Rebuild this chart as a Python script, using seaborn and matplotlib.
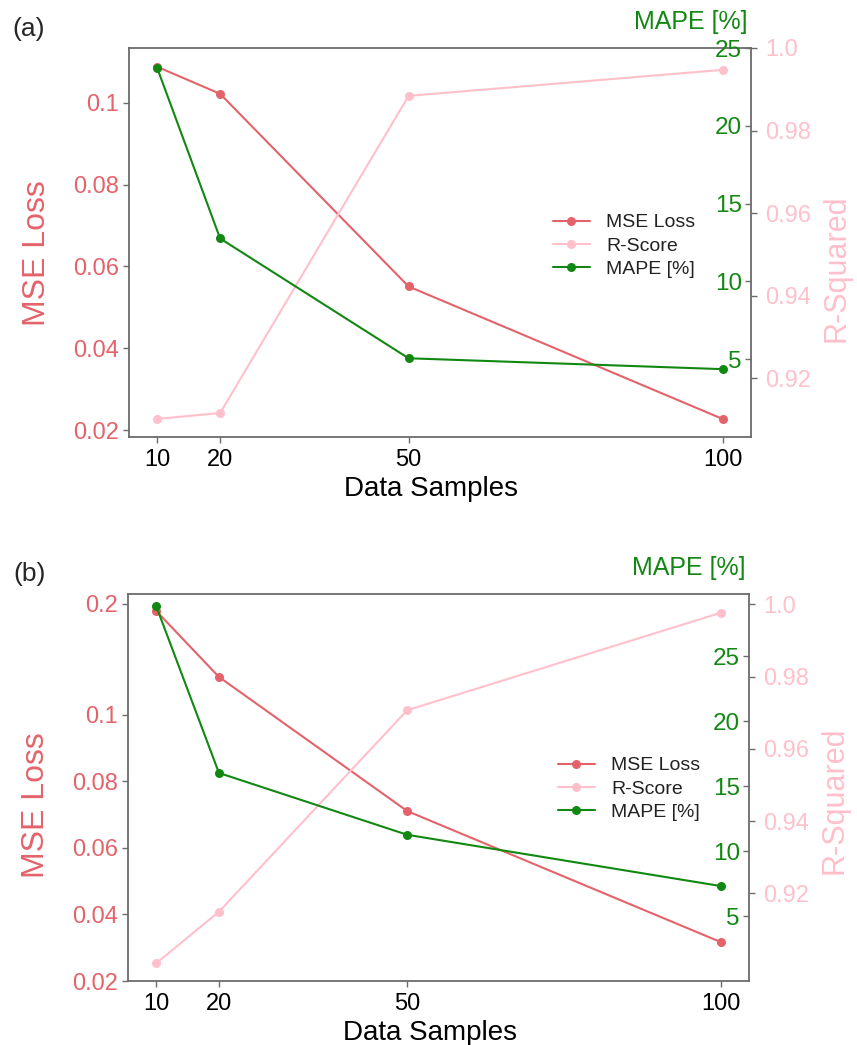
import numpy as np
import matplotlib
matplotlib.use("Agg")
import matplotlib.pyplot as plt
import seaborn as sns

# ---------------- data ----------------
samples = [10, 20, 50, 100]

mse_a = [0.1088, 0.1022, 0.0551, 0.0227]
r2_a = [0.9101, 0.9115, 0.9884, 0.9947]
mape_a = [23.7, 12.76, 5.06, 4.36]

mse_b = [0.1937, 0.1342, 0.0711, 0.0317]
r2_b = [0.9006, 0.9149, 0.9707, 0.9977]
mape_b = [28.86, 16.02, 11.26, 7.31]

x_ticks = [10, 20, 50, 100]
mse_ticks_a = [0.02, 0.04, 0.06, 0.08, 0.1]
mse_labels_a = ["0.02", "0.04", "0.06", "0.08", "0.1"]
mse_ticks_b = [0.02, 0.04, 0.06, 0.08, 0.1, 0.2]
mse_labels_b = ["0.02", "0.04", "0.06", "0.08", "0.1", "0.2"]
mape_ticks = [5, 10, 15, 20, 25]
r2_ticks = [0.92, 0.94, 0.96, 0.98, 1.0]
r2_labels = ["0.92", "0.94", "0.96", "0.98", "1.0"]
series_names = ["MSE Loss", "R-Score", "MAPE [%]"]

# ---------------- style ----------------
sns.set_style("white")
plt.rcParams['font.family'] = ['Liberation Sans', 'DejaVu Sans']

RED = "#E4636A"
GREEN = "#128812"
PINK = "#FFC0CB"
SPINE = "#6b6b6b"


def fwd(y):
    y = np.asarray(y, dtype=float)
    return np.where(y <= 0.1, y, 0.1 + (y - 0.1) / 3.0)


def inv(t):
    t = np.asarray(t, dtype=float)
    return np.where(t <= 0.1, t, 0.1 + (t - 0.1) * 3.0)


fig = plt.figure(figsize=(8.57, 10.45), dpi=100)
W, H = 857.0, 1045.0


def rect(l, t, r, b):
    return [l / W, 1 - b / H, (r - l) / W, (b - t) / H]


def panel(box, mse, r2, mape, mse_ticks, mse_labels, mse_lim, r2_lim, mape_lim,
          broken, leg_xy, ylab_y, rlab_y):
    ax = fig.add_axes(box)
    axr = ax.twinx()
    axm = ax.twinx()

    kw = dict(marker='o', markersize=6.5, markeredgewidth=0, linewidth=1.5)
    sns.lineplot(x=samples, y=mse, ax=ax, color=RED, label=series_names[0], **kw)
    sns.lineplot(x=samples, y=r2, ax=axr, color=PINK, label=series_names[1], **kw)
    sns.lineplot(x=samples, y=mape, ax=axm, color=GREEN, label=series_names[2], **kw)

    handles, labels = [], []
    for a in (ax, axr, axm):
        h, l = a.get_legend_handles_labels()
        handles += h
        labels += l
        if a.get_legend() is not None:
            a.get_legend().remove()

    if broken:
        ax.set_yscale('function', functions=(fwd, inv))
    ax.set_ylim(*mse_lim)
    axr.set_ylim(*r2_lim)
    axm.set_ylim(*mape_lim)
    ax.set_xlim(5.5, 104.5)

    ax.set_xticks(x_ticks, labels=[str(v) for v in x_ticks])
    ax.set_yticks(mse_ticks, labels=mse_labels)
    ax.minorticks_off()
    axr.set_yticks(r2_ticks, labels=r2_labels)
    axm.set_yticks(mape_ticks, labels=[str(v) for v in mape_ticks])

    for s in ax.spines.values():
        s.set_visible(True)
        s.set_color(SPINE)
        s.set_linewidth(1.3)
    for a in (axr, axm):
        for s in a.spines.values():
            s.set_visible(False)

    ax.tick_params(axis='x', labelsize=17, length=4, width=1, color=SPINE,
                   direction='out', pad=5, labelcolor='black', bottom=True)
    ax.tick_params(axis='y', labelsize=17, length=4, width=1, color=SPINE,
                   direction='out', pad=3, labelcolor=RED, left=True)
    axr.tick_params(axis='y', labelsize=17, length=4, width=1, color=SPINE,
                    direction='out', pad=6, labelcolor=PINK, right=True)
    axm.tick_params(axis='y', labelsize=17.5, length=4, width=1, color=SPINE,
                    direction='in', pad=-6.5, labelcolor=GREEN, right=True)
    for t in axm.get_yticklabels():
        t.set_horizontalalignment('right')

    ax.set_xlabel("Data Samples", fontsize=20, color='black')
    ax.xaxis.set_label_coords(0.486, -0.1)
    ax.set_ylabel("MSE Loss", fontsize=23, color=RED)
    ax.yaxis.set_label_coords(-0.124, ylab_y)
    axr.set_ylabel("R-Squared", fontsize=22, color=PINK)
    axr.yaxis.set_label_coords(1.114, rlab_y)
    axm.set_ylabel("MAPE [%]", fontsize=18, color=GREEN, rotation=0,
                   ha='right', va='center')
    axm.yaxis.set_label_coords(0.9936, 1.067)

    axm.legend(handles, labels, loc='center left',
               bbox_to_anchor=(leg_xy[0] / W, 1 - leg_xy[1] / H),
               bbox_transform=fig.transFigure, frameon=False, fontsize=14,
               handlelength=1.9, handletextpad=0.85, labelspacing=0.3,
               borderpad=0, borderaxespad=0, labelcolor='#222222')
    return ax


panel(rect(129, 48, 751, 437), mse_a, r2_a, mape_a, mse_ticks_a, mse_labels_a,
      (0.0183, 0.1134), (0.9057, 1.0), (0, 25), False, (553, 246), 0.473, 0.434)
panel(rect(128, 594, 749, 981), mse_b, r2_b, mape_b, mse_ticks_b, mse_labels_b,
      (0.02, 0.209), (0.8957, 1.0029), (0, 29.8), True, (558, 789), 0.455, 0.468)

fig.text(12 / W, 1 - 29 / H, "(a)", fontsize=19, va='center', ha='left')
fig.text(13 / W, 1 - 574 / H, "(b)", fontsize=19, va='center', ha='left')

fig.savefig("out.png", dpi=100)
